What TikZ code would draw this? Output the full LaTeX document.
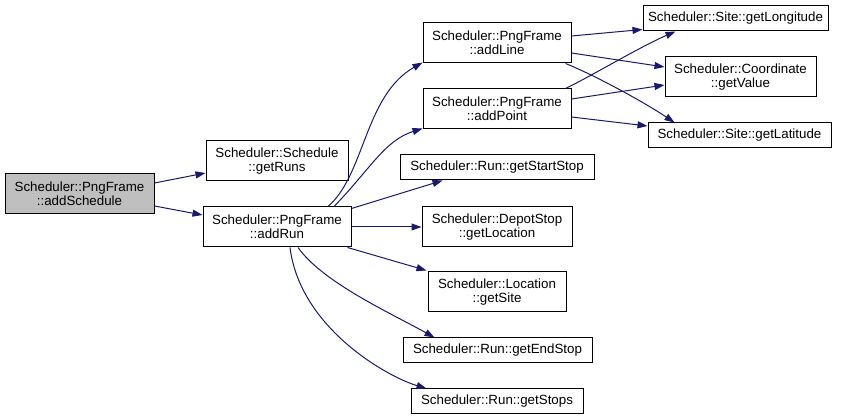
\documentclass[tikz,border=0pt]{standalone}
\usepackage{fontspec}
\setmainfont{Liberation Sans}
\usetikzlibrary{arrows.meta,calc}
\definecolor{edgeblue}{HTML}{191970}
\definecolor{rootgray}{HTML}{BFBFBF}
\begin{document}
\begin{tikzpicture}[x=0.75pt,y=-0.75pt,
  box/.style={draw=black, line width=0.75pt, fill=white, align=center, inner sep=0pt,
    font=\fontsize{10}{10.5}\selectfont},
  tall/.style={minimum height=30pt},
  flat/.style={minimum height=18.75pt},
  edge/.style={draw=edgeblue, line width=0.75pt, -{Triangle[length=7.5pt,width=5.25pt]}}]
\useasboundingbox (0,0) rectangle (843,420);

\node[box,tall,fill=rootgray,minimum width=111.75pt] (addSchedule) at (79.5,194) {Scheduler::PngFrame\\::addSchedule};
\node[box,tall,minimum width=106.5pt] (getRuns) at (277,161) {Scheduler::Schedule\\::getRuns};
\node[box,tall,minimum width=111pt] (addRun) at (277,227) {Scheduler::PngFrame\\::addRun};
\node[box,tall,minimum width=111pt] (addLine) at (497,43) {Scheduler::PngFrame\\::addLine};
\node[box,tall,minimum width=111pt] (addPoint) at (497,109) {Scheduler::PngFrame\\::addPoint};
\node[box,flat,minimum width=138.75pt] (getLongitude) at (735.5,18.5) {Scheduler::Site::getLongitude};
\node[box,tall,minimum width=113.25pt] (getValue) at (740.5,77) {Scheduler::Coordinate\\::getValue};
\node[box,flat,minimum width=137.25pt] (getLatitude) at (739.5,135.5) {Scheduler::Site::getLatitude};
\node[box,flat,minimum width=145.5pt] (getStartStop) at (497,167.5) {Scheduler::Run::getStartStop};
\node[box,tall,minimum width=112.5pt] (getLocation) at (497,227) {Scheduler::DepotStop\\::getLocation};
\node[box,tall,minimum width=103.5pt] (getSite) at (497,292) {Scheduler::Location\\::getSite};
\node[box,flat,minimum width=141.75pt] (getEndStop) at (497.5,350.5) {Scheduler::Run::getEndStop};
\node[box,flat,minimum width=129pt] (getStops) at (497,401.5) {Scheduler::Run::getStops};

% from addSchedule
\draw[edge] ($(addSchedule.east)+(0,-11)$) -- ($(getRuns.west)+(0,12)$);
\draw[edge] ($(addSchedule.east)+(0,12)$) -- ($(addRun.west)+(0,-12)$);

% from addRun
\draw[edge] ($(addRun.north)+(51,0)$) .. controls +(37,-32) and +(-58,33) .. ($(addLine.south west)+(0,-1)$);
\draw[edge] ($(addRun.north)+(57,0)$) .. controls +(36,-37) and +(-38,12) .. ($(addPoint.south west)+(0,-1)$);
\draw[edge] ($(addRun.north east)+(0,2)$) -- ($(getStartStop.south west)+(43,0)$);
\draw[edge] (addRun.east) -- (getLocation.west);
\draw[edge] ($(addRun.south east)+(-4,0)$) -- ($(getSite.north west)+(-1,-1)$);
\draw[edge] ($(addRun.south)+(21,0)$) .. controls +(25,35) and +(-45,-25) .. ($(getEndStop.north west)+(32,0)$);
\draw[edge] ($(addRun.south)+(13,0)$) .. controls +(10,80) and +(-40,-12) .. ($(getStops.north west)+(16,0)$);

% from addLine
\draw[edge] ($(addLine.east)+(0,-7)$) -- ($(getLongitude.west)+(0,11)$);
\draw[edge] ($(addLine.east)+(0,10)$) -- ($(getValue.west)+(0,-10)$);
\draw[edge] ($(addLine.south east)+(-6,0)$) .. controls +(30,12) and +(-30,-20) .. ($(getLatitude.north west)+(27,0)$);

% from addPoint
\draw[edge] ($(addPoint.north east)+(-6,0)$) .. controls +(25,-12) and +(-35,15) .. ($(getLongitude.south west)+(33,0)$);
\draw[edge] ($(addPoint.east)+(0,-10)$) -- ($(getValue.west)+(0,8)$);
\draw[edge] ($(addPoint.east)+(0,8)$) -- ($(getLatitude.west)+(0,-9.5)$);
\end{tikzpicture}
\end{document}
